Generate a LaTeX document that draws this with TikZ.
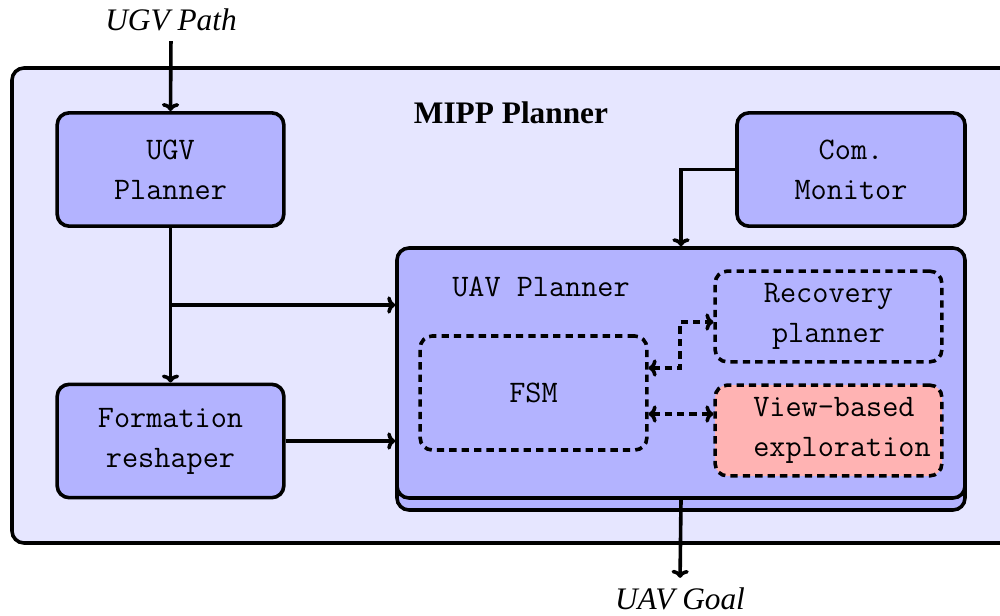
\documentclass[tikz,border=0pt]{standalone}
\usepackage{fontspec}
\setmainfont{Liberation Serif}
\usetikzlibrary{arrows.meta}
\definecolor{outerfill}{HTML}{E6E6FF}
\definecolor{blockfill}{HTML}{B3B3FF}
\definecolor{explfill}{HTML}{FFB3B3}
\begin{document}
\begin{tikzpicture}[x=0.75pt,y=-0.75pt,
  txt/.style={font=\fontsize{23.5}{30}\selectfont},
  block/.style={draw, line width=2.7pt, rounded corners=9pt, fill=blockfill,
    align=center, inner sep=0pt, font=\fontsize{23.5}{30}\selectfont\ttfamily},
  dblock/.style={draw, line width=2.7pt, rounded corners=9pt,
    dash pattern=on 5.5pt off 3.8pt, inner sep=0pt, align=center,
    font=\fontsize{23.5}{30}\selectfont\ttfamily},
  tip/.tip={To[length=6pt,width=13pt]},
  link/.style={line width=2.7pt, -tip},
  dlink/.style={line width=2.7pt, tip-tip, dash pattern=on 5.5pt off 3.8pt}]
\useasboundingbox (0,0) rectangle (1000,615);
\begin{scope}
\clip (0,0) rectangle (1000,615);
% MIPP planner frame
\draw[line width=2.7pt, rounded corners=9pt, fill=outerfill] (12,68) rectangle (1015,543);
\end{scope}
\node[txt, font=\fontsize{23.5}{30}\selectfont\bfseries] (mipp) at (511,113) {MIPP Planner};

% UGV side
\node[block, minimum width=170pt, minimum height=85pt] (ugv) at (170.5,169.5) {UGV\\Planner};
\node[block, minimum width=170pt, minimum height=85pt] (form) at (170.5,441) {Formation\\reshaper};
\node[block, minimum width=171pt, minimum height=85pt] (com) at (851,169.5) {Com.\\Monitor};

% UAV planner (stacked)
\node[draw, line width=2.7pt, rounded corners=9pt, fill=blockfill,
  minimum width=426pt, minimum height=187.5pt] (uavback) at (681,385) {};
\node[draw, line width=2.7pt, rounded corners=9pt, fill=blockfill,
  minimum width=426pt, minimum height=187.5pt] (uav) at (681,373) {};
\node[txt, font=\fontsize{23.5}{30}\selectfont\ttfamily] (uavlabel) at (541,287) {UAV Planner};

\node[dblock, minimum width=170pt, minimum height=85.5pt] (fsm) at (533.5,393) {FSM};
\node[dblock, minimum width=170pt, minimum height=68pt] (rec) at (828.5,316.5) {Recovery\\planner};
\node[dblock, fill=explfill, minimum width=170pt, minimum height=68pt] (view) at (828.5,430.5) {};
\node[txt, font=\fontsize{23.5}{30}\selectfont\ttfamily, align=left] (viewtxt) at (842,430.5) {View-based\\exploration};

% inputs and outputs
\node[txt, font=\fontsize{23.5}{30}\selectfont\itshape] (path) at (171,20) {UGV Path};
\node[txt, font=\fontsize{23.5}{30}\selectfont\itshape] (goal) at (680,599) {UAV Goal};
\coordinate (branch) at (ugv.south |- 0,305);

% connectors
\draw[link, shorten <=4pt] (path.south) -- (ugv.north);
\draw[link] (ugv.south) -- (form.north);
\draw[link] (branch) -- (branch -| uav.west);
\draw[link] (form.east) -- (form.east -| uav.west);
\draw[link] (com.west) -| (uav.north);
\draw[link, shorten >=4pt] (uav.south) -- (goal.north);
\draw[dlink] (fsm.east |- 0,368) -- (680,368) |- (rec.west |- 0,322);
\draw[dlink] (fsm.east |- 0,414) -- (view.west |- 0,414);
\end{tikzpicture}
\end{document}
